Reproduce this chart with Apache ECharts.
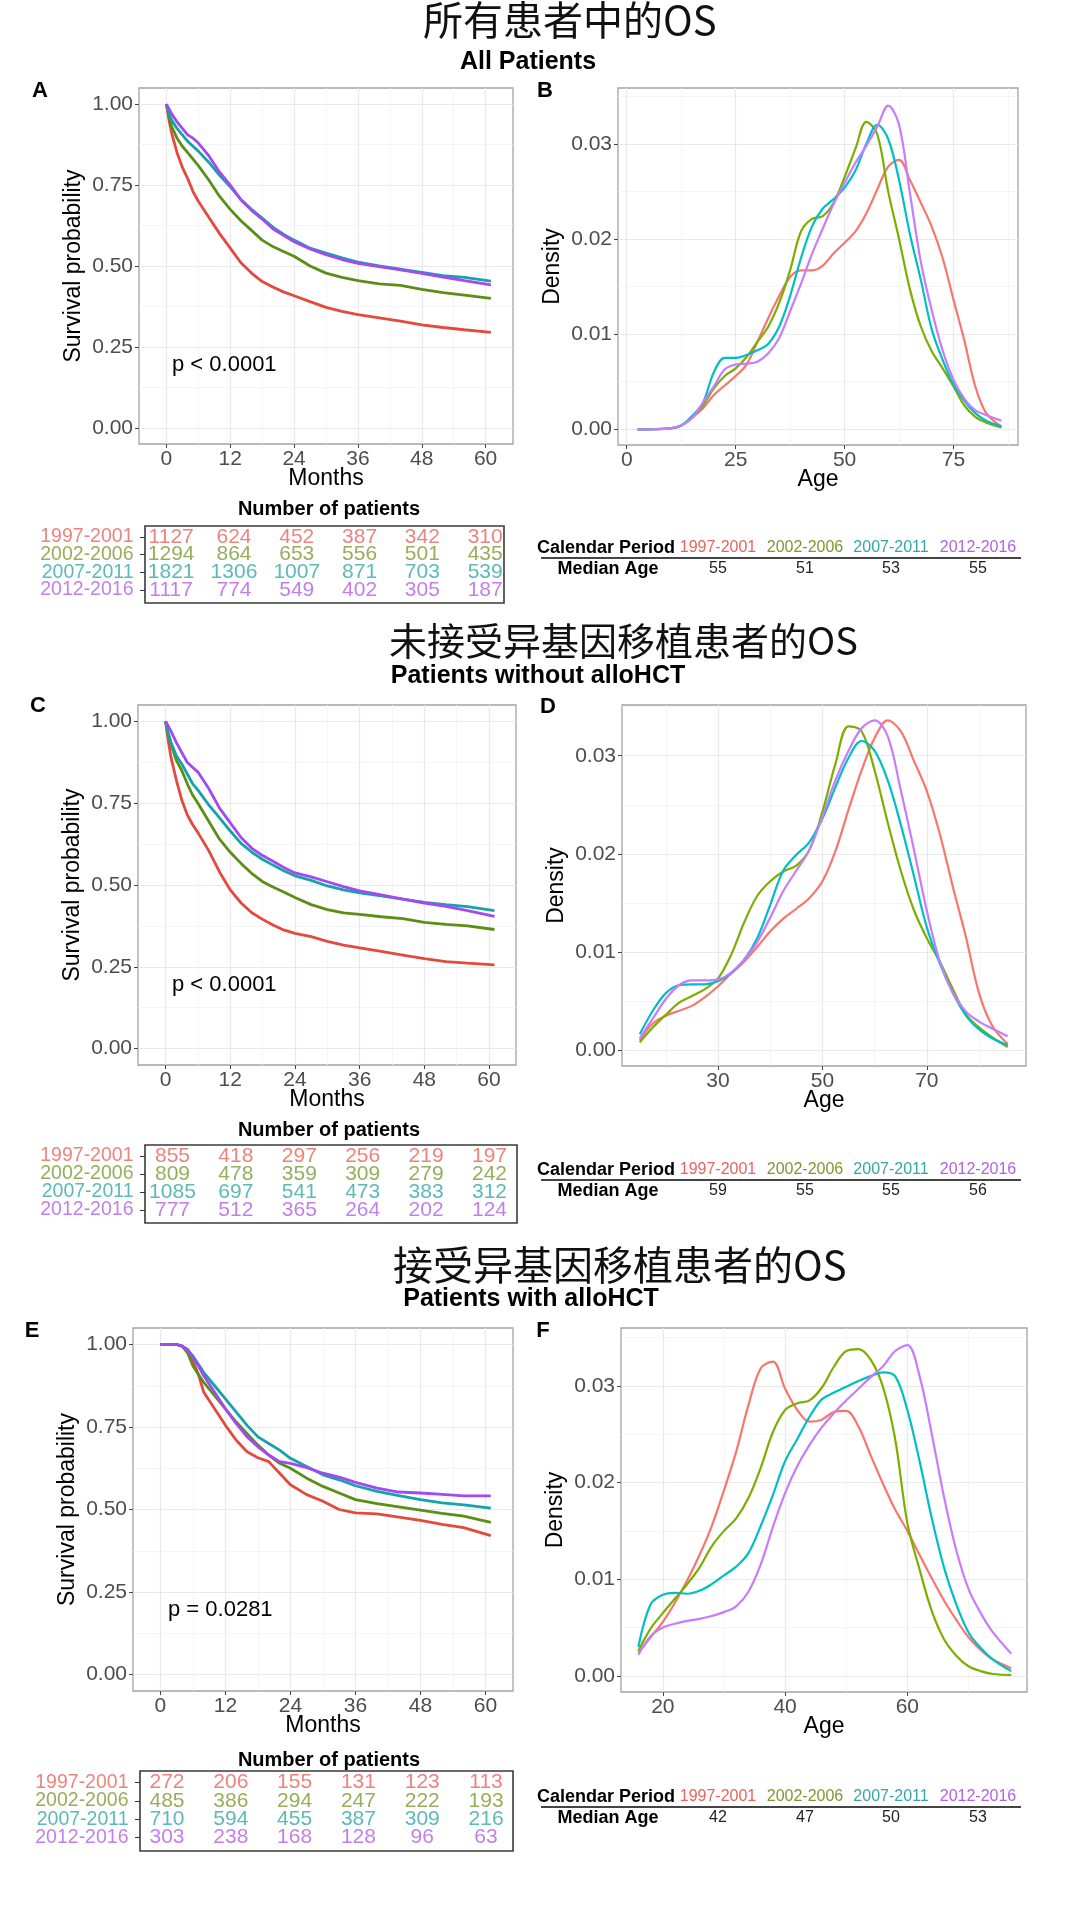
<!DOCTYPE html>
<html><head><meta charset="utf-8">
<script src="https://cdn.jsdelivr.net/npm/echarts@6/dist/echarts.min.js"></script>
<style>html,body{margin:0;padding:0;background:#fff}#c{width:1080px;height:1920px}</style>
</head><body><div id="c"></div>
<script>
// ---------------- DATA ----------------
const periods = ['1997-2001', '2002-2006', '2007-2011', '2012-2016'];

// Kaplan-Meier curves (months, survival probability)
const kmMonthsAC = [0,0.5,1,2,3,4,5,6,8,10,12,14,16,18,20,22,24,27,30,33,36,40,44,48,52,56,61];
const survA_1997 = [1,0.95,0.91,0.85,0.805,0.77,0.73,0.70,0.65,0.60,0.555,0.51,0.478,0.452,0.435,0.42,0.408,0.39,0.372,0.36,0.35,0.34,0.33,0.318,0.31,0.303,0.295];
const survA_2002 = [1,0.96,0.93,0.895,0.87,0.85,0.83,0.81,0.765,0.715,0.675,0.64,0.61,0.58,0.56,0.545,0.53,0.50,0.478,0.465,0.455,0.445,0.44,0.428,0.418,0.41,0.40];
const survA_2007 = [1,0.97,0.95,0.925,0.905,0.885,0.87,0.855,0.82,0.78,0.745,0.705,0.675,0.648,0.62,0.598,0.58,0.555,0.54,0.525,0.512,0.50,0.49,0.48,0.47,0.465,0.453];
const survA_2012 = [1,0.985,0.97,0.945,0.925,0.905,0.895,0.88,0.84,0.79,0.75,0.705,0.672,0.645,0.615,0.595,0.575,0.553,0.535,0.52,0.508,0.498,0.488,0.477,0.466,0.455,0.442];

const survC_1997 = [1,0.94,0.89,0.82,0.76,0.715,0.685,0.66,0.605,0.54,0.485,0.445,0.415,0.395,0.377,0.362,0.352,0.342,0.328,0.316,0.308,0.297,0.286,0.275,0.266,0.261,0.256];
const survC_2002 = [1,0.96,0.93,0.88,0.85,0.81,0.775,0.75,0.695,0.64,0.60,0.566,0.535,0.51,0.493,0.478,0.462,0.44,0.425,0.415,0.41,0.403,0.397,0.386,0.38,0.375,0.364];
const survC_2007 = [1,0.965,0.935,0.895,0.87,0.84,0.81,0.79,0.745,0.705,0.665,0.627,0.60,0.578,0.56,0.543,0.528,0.514,0.497,0.485,0.476,0.467,0.457,0.447,0.44,0.434,0.422];
const survC_2012 = [1,0.985,0.97,0.935,0.905,0.875,0.86,0.845,0.795,0.735,0.69,0.645,0.612,0.59,0.572,0.553,0.537,0.525,0.51,0.495,0.482,0.47,0.457,0.445,0.435,0.422,0.404];

const kmMonthsE = [0,2,3,4,5,6,7,8,10,12,14,16,18,20,22,24,27,30,33,36,40,44,48,52,56,61];
const survE_1997 = [1,1,1,0.995,0.98,0.95,0.91,0.855,0.805,0.755,0.71,0.675,0.657,0.645,0.61,0.575,0.545,0.525,0.50,0.49,0.487,0.477,0.467,0.455,0.445,0.421];
const survE_2002 = [1,1,1,0.995,0.975,0.935,0.91,0.885,0.845,0.805,0.765,0.73,0.695,0.665,0.64,0.625,0.595,0.57,0.55,0.53,0.518,0.508,0.498,0.488,0.48,0.461];
const survE_2007 = [1,1,1,0.995,0.985,0.965,0.94,0.915,0.875,0.835,0.795,0.755,0.72,0.70,0.68,0.655,0.63,0.605,0.59,0.572,0.555,0.542,0.53,0.52,0.514,0.504];
const survE_2012 = [1,1,1,0.995,0.985,0.96,0.935,0.905,0.855,0.805,0.76,0.72,0.69,0.665,0.645,0.64,0.627,0.61,0.598,0.582,0.565,0.553,0.55,0.546,0.541,0.541];

// Age density curves
const ageB = [2.5,10,12.5,15,17.5,20,22.5,25,27.5,30,32.5,35,37.5,40,42.5,45,47.5,50,52.5,55,57.5,60,62.5,65,67.5,70,72.5,75,77.5,80,82.5,86];
const densB_1997 = [0,0.0001,0.0004,0.0012,0.0022,0.0036,0.0046,0.0056,0.0068,0.0092,0.0117,0.0140,0.0160,0.0167,0.0167,0.0172,0.0185,0.0196,0.0208,0.0227,0.0252,0.0276,0.0283,0.0262,0.0238,0.0213,0.0180,0.0136,0.0093,0.0045,0.0017,0.0003];
const densB_2002 = [0,0.0001,0.0004,0.0013,0.0025,0.0043,0.0056,0.0064,0.0076,0.0092,0.0108,0.0133,0.0167,0.0208,0.0221,0.0224,0.0238,0.0265,0.0295,0.0323,0.0310,0.0250,0.0200,0.0147,0.0108,0.0082,0.0064,0.0045,0.0025,0.0013,0.0007,0.0002];
const densB_2007 = [0,0.0001,0.0004,0.0014,0.0028,0.0060,0.0075,0.0075,0.0078,0.0083,0.0090,0.0108,0.0140,0.0180,0.0213,0.0232,0.0242,0.0254,0.0272,0.0300,0.0320,0.0305,0.0262,0.0205,0.0157,0.0105,0.0073,0.0047,0.0030,0.0017,0.0009,0.0003];
const densB_2012 = [0,0.0001,0.0004,0.0012,0.0028,0.0045,0.0063,0.0068,0.0069,0.0071,0.0080,0.0096,0.0124,0.0153,0.0184,0.0211,0.0237,0.0259,0.0280,0.0298,0.0318,0.0340,0.0320,0.0248,0.0176,0.0125,0.0083,0.0052,0.0032,0.0020,0.0015,0.0009];

const ageD = [15,17.5,20,22.5,25,27.5,30,32.5,35,37.5,40,42.5,45,47.5,50,52.5,55,57.5,60,62.5,65,67.5,70,72.5,75,77.5,80,82.5,85.5];
const densD_1997 = [0.0010,0.0027,0.0035,0.0040,0.0045,0.0054,0.0065,0.0078,0.0090,0.0105,0.0121,0.0134,0.0144,0.0155,0.0172,0.0203,0.0245,0.0285,0.0318,0.0336,0.0325,0.0295,0.0264,0.0220,0.0166,0.0115,0.0058,0.0025,0.0006];
const densD_2002 = [0.0008,0.0023,0.0036,0.0048,0.0055,0.0062,0.0073,0.0097,0.0130,0.0157,0.0172,0.0182,0.0188,0.0204,0.0243,0.0292,0.0330,0.0325,0.0285,0.0232,0.0183,0.0143,0.0114,0.0090,0.0062,0.0036,0.0023,0.0013,0.0003];
const densD_2007 = [0.0016,0.0040,0.0058,0.0066,0.0067,0.0067,0.0070,0.0078,0.0092,0.0114,0.0148,0.0183,0.0199,0.0212,0.0236,0.0268,0.0298,0.0315,0.0305,0.0275,0.0230,0.0178,0.0125,0.0088,0.0058,0.0035,0.0021,0.0012,0.0005];
const densD_2012 = [0.0012,0.0032,0.0052,0.0066,0.0071,0.0071,0.0072,0.0079,0.0092,0.0110,0.0135,0.0162,0.0183,0.0204,0.0238,0.0275,0.0305,0.0328,0.0336,0.0320,0.0265,0.0205,0.0142,0.0090,0.0058,0.0039,0.0029,0.0022,0.0014];

const ageF = [16,18,20,22,24,26,28,30,32,34,36,38,40,42,44,46,48,50,52,54,56,58,60,62,64,66,68,70,72,74,77];
const densF_1997 = [0.0024,0.0040,0.0056,0.0076,0.0099,0.0125,0.0155,0.0192,0.0232,0.0280,0.0318,0.0325,0.0297,0.0275,0.0263,0.0265,0.0273,0.0274,0.0258,0.0228,0.0199,0.0172,0.0150,0.0125,0.0101,0.0078,0.0058,0.0040,0.0027,0.0017,0.0008];
const densF_2002 = [0.0026,0.0049,0.0065,0.0080,0.0095,0.0112,0.0134,0.0150,0.0163,0.0184,0.0215,0.0252,0.0275,0.0282,0.0285,0.0298,0.0320,0.0336,0.0338,0.0327,0.0299,0.0245,0.0158,0.0110,0.0067,0.0038,0.0021,0.0010,0.0005,0.0002,0.0001];
const densF_2007 = [0.0030,0.0074,0.0084,0.0086,0.0085,0.0088,0.0095,0.0104,0.0113,0.0127,0.0155,0.0187,0.0222,0.0245,0.0268,0.0286,0.0293,0.0299,0.0305,0.0310,0.0314,0.0310,0.0275,0.0222,0.0163,0.0112,0.0074,0.0045,0.0029,0.0017,0.0005];
const densF_2012 = [0.0022,0.0041,0.0050,0.0054,0.0057,0.0059,0.0062,0.0066,0.0072,0.0087,0.0115,0.0154,0.0189,0.0217,0.0239,0.0257,0.0272,0.0285,0.0297,0.0309,0.0320,0.0336,0.0342,0.0310,0.0250,0.0185,0.0130,0.0090,0.0065,0.0045,0.0023];

// Number at risk tables
const riskTimes = [0, 12, 24, 36, 48, 60];
const riskA_1997 = [1127, 624, 452, 387, 342, 310];
const riskA_2002 = [1294, 864, 653, 556, 501, 435];
const riskA_2007 = [1821, 1306, 1007, 871, 703, 539];
const riskA_2012 = [1117, 774, 549, 402, 305, 187];
const riskC_1997 = [855, 418, 297, 256, 219, 197];
const riskC_2002 = [809, 478, 359, 309, 279, 242];
const riskC_2007 = [1085, 697, 541, 473, 383, 312];
const riskC_2012 = [777, 512, 365, 264, 202, 124];
const riskE_1997 = [272, 206, 155, 131, 123, 113];
const riskE_2002 = [485, 386, 294, 247, 222, 193];
const riskE_2007 = [710, 594, 455, 387, 309, 216];
const riskE_2012 = [303, 238, 168, 128, 96, 63];

// Median ages
const medianB = [55, 51, 53, 55];
const medianD = [59, 55, 55, 56];
const medianF = [42, 47, 50, 53];

// Tick labels
const monthTicks = [0, 12, 24, 36, 48, 60];
const survTicks = [0, 0.25, 0.5, 0.75, 1];
const densTicks = [0, 0.01, 0.02, 0.03];
const ageTicksB = [0, 25, 50, 75];
const ageTicksD = [30, 50, 70];
const ageTicksF = [20, 40, 60];

// Text
const titlesCN = ['所有患者中的OS', '未接受异基因移植患者的OS', '接受异基因移植患者的OS'];
const titlesEN = ['All Patients', 'Patients without alloHCT', 'Patients with alloHCT'];
const pValues = ['p < 0.0001', 'p < 0.0001', 'p = 0.0281'];

// ---------------- STYLE ----------------
const FONT = '"Liberation Sans", Arial, sans-serif';
const CJK = '"Noto Sans CJK SC", sans-serif';
const KM_COLORS = ['#E4493D', '#5B8E16', '#16A2AA', '#A24AF2'];
const DENS_COLORS = ['#F8766D', '#7CAE00', '#00BFC4', '#C77CFF'];
const TAB_COLORS = ['#E8645C', '#7A9A30', '#33A7A8', '#B35FE6'];

function minorOf(maj, lo, hi) {
  const step = maj[1] - maj[0];
  const out = [];
  for (let v = maj[0] - step / 2; v <= hi + 1e-9; v += step) if (v >= lo - 1e-9) out.push(+v.toFixed(6));
  return out;
}

const panels = [
  { grid: {left: 139, top: 88, width: 374, height: 356}, x: [-5.15, 65.15], y: [-0.05, 1.05], xt: monthTicks, yt: survTicks },
  { grid: {left: 618, top: 88, width: 400, height: 357}, x: [-2.0, 89.8], y: [-0.00165, 0.03586], xt: ageTicksB, yt: densTicks },
  { grid: {left: 138, top: 705, width: 378, height: 360}, x: [-5.12, 65.0], y: [-0.05, 1.05], xt: monthTicks, yt: survTicks },
  { grid: {left: 622, top: 705, width: 404, height: 361}, x: [11.6, 89.0], y: [-0.00163, 0.03517], xt: ageTicksD, yt: densTicks },
  { grid: {left: 133, top: 1328, width: 380, height: 363}, x: [-5.07, 65.1], y: [-0.05, 1.05], xt: monthTicks, yt: survTicks },
  { grid: {left: 621, top: 1328, width: 406, height: 364}, x: [13.16, 79.57], y: [-0.00166, 0.03598], xt: ageTicksF, yt: densTicks }
];

const tables = [
  { grid: {left: 145, top: 526, width: 359, height: 77}, x: [-5.0, 63.6], rows: [riskA_1997, riskA_2002, riskA_2007, riskA_2012] },
  { grid: {left: 145, top: 1145, width: 372, height: 78}, x: [-5.2, 65.2], rows: [riskC_1997, riskC_2002, riskC_2007, riskC_2012] },
  { grid: {left: 140, top: 1771, width: 373, height: 80}, x: [-5.08, 65.07], rows: [riskE_1997, riskE_2002, riskE_2007, riskE_2012] }
];

const grids = [], xAxes = [], yAxes = [], series = [];

panels.forEach((p, k) => {
  grids.push(Object.assign({show: true, borderColor: '#a3a3a3', borderWidth: 1.3, backgroundColor: '#fff'}, p.grid));
  const xMinor = minorOf(p.xt, p.x[0], p.x[1]);
  const yMinor = minorOf(p.yt, p.y[0], p.y[1]);
  xAxes.push({
    type: 'value', gridIndex: k, min: p.x[0], max: p.x[1], position: 'bottom',
    axisLine: {show: false, onZero: false},
    axisTick: {show: true, customValues: p.xt, length: 4, lineStyle: {color: '#444', width: 1}},
    axisLabel: {customValues: p.xt, color: '#4d4d4d', fontSize: 21, margin: 5, fontFamily: FONT, showMinLabel: true, showMaxLabel: true},
    splitLine: {show: true, lineStyle: {color: '#e9e9e9', width: 1.2}}
  });
  xAxes.push({
    type: 'value', gridIndex: k, min: p.x[0], max: p.x[1], position: 'top',
    axisLine: {show: false, onZero: false}, axisTick: {show: false, customValues: xMinor},
    axisLabel: {show: false, customValues: xMinor},
    splitLine: {show: true, lineStyle: {color: '#f3f3f3', width: 0.8}}
  });
  yAxes.push({
    type: 'value', gridIndex: k, min: p.y[0], max: p.y[1], position: 'left',
    axisLine: {show: false, onZero: false},
    axisTick: {show: true, customValues: p.yt, length: 4, lineStyle: {color: '#444', width: 1}},
    axisLabel: {customValues: p.yt, color: '#4d4d4d', fontSize: 21, margin: 6, fontFamily: FONT, showMinLabel: true, showMaxLabel: true,
      formatter: v => (+v).toFixed(2)},
    splitLine: {show: true, lineStyle: {color: '#e9e9e9', width: 1.2}}
  });
  yAxes.push({
    type: 'value', gridIndex: k, min: p.y[0], max: p.y[1], position: 'right',
    axisLine: {show: false, onZero: false}, axisTick: {show: false, customValues: yMinor},
    axisLabel: {show: false, customValues: yMinor},
    splitLine: {show: true, lineStyle: {color: '#f3f3f3', width: 0.8}}
  });
});

function addLines(k, xs, arrs, colors, width, smooth) {
  arrs.forEach((a, i) => {
    series.push({
      type: 'line', xAxisIndex: 2 * k, yAxisIndex: 2 * k,
      data: xs.map((x, j) => [x, a[j]]),
      showSymbol: false, symbol: 'none', smooth: smooth, silent: true, animation: false,
      lineStyle: {width: width, color: colors[i]}, itemStyle: {color: colors[i]}, z: 3 + i
    });
  });
}
addLines(0, kmMonthsAC, [survA_1997, survA_2002, survA_2007, survA_2012], KM_COLORS, 2.8, false);
addLines(1, ageB, [densB_1997, densB_2002, densB_2007, densB_2012], DENS_COLORS, 2.2, 0.35);
addLines(2, kmMonthsAC, [survC_1997, survC_2002, survC_2007, survC_2012], KM_COLORS, 2.8, false);
addLines(3, ageD, [densD_1997, densD_2002, densD_2007, densD_2012], DENS_COLORS, 2.2, 0.35);
addLines(4, kmMonthsE, [survE_1997, survE_2002, survE_2007, survE_2012], KM_COLORS, 2.8, false);
addLines(5, ageF, [densF_1997, densF_2002, densF_2007, densF_2012], DENS_COLORS, 2.2, 0.35);

// Risk tables
tables.forEach((t, n) => {
  const gi = panels.length + n;          // grid index
  const ai = 2 * panels.length + n;      // axis index
  grids.push(Object.assign({show: true, borderColor: '#3a3a3a', borderWidth: 1.6, backgroundColor: 'transparent'}, t.grid));
  xAxes.push({type: 'value', gridIndex: gi, min: t.x[0], max: t.x[1], show: false, axisLine: {onZero: false}});
  yAxes.push({
    type: 'value', gridIndex: gi, min: -0.62, max: 3.73, inverse: true,
    axisLine: {show: false, onZero: false}, splitLine: {show: false},
    axisTick: {show: true, customValues: [0, 1, 2, 3], length: 5, lineStyle: {color: '#333'}},
    axisLabel: {show: false, customValues: [0, 1, 2, 3]}
  });
  // row labels (period names) placed at the table's left edge
  series.push({
    type: 'scatter', xAxisIndex: ai, yAxisIndex: ai, clip: false,
    data: periods.map((pr, i) => ({value: [t.x[0], i], label: {color: TAB_COLORS[i]}})),
    symbolSize: 1, itemStyle: {color: 'rgba(0,0,0,0)'}, silent: true, animation: false,
    label: {show: true, position: 'left', distance: 11, formatter: pr => periods[pr.dataIndex], fontSize: 19.5, fontFamily: FONT},
    labelLayout: {hideOverlap: false}
  });
  t.rows.forEach((row, i) => {
    series.push({
      type: 'scatter', xAxisIndex: ai, yAxisIndex: ai,
      data: riskTimes.map((tm, j) => [tm, i, row[j]]),
      symbolSize: 1, itemStyle: {color: 'rgba(0,0,0,0)'}, silent: true, animation: false,
      label: {show: true, position: 'inside', formatter: pr => String(pr.value[2]), color: TAB_COLORS[i], fontSize: 21, fontFamily: FONT},
      labelLayout: {hideOverlap: false}
    });
  });
});

// Graphic text
const graphic = [];
function txt(text, x, y, o) {
  o = o || {};
  const el = {type: 'text', x: x, y: y, silent: true, z: 100,
    style: {text: text, fill: o.fill || '#000', font: o.font || ('21px ' + FONT),
      align: o.align || 'center', textAlign: o.align || 'center', verticalAlign: 'middle', textVerticalAlign: 'middle'}};
  if (o.rotation) el.rotation = o.rotation;
  graphic.push(el);
}
const rowTitle = [
  {cx: 423, cy: 20, fs: 40, sx: 528, sy: 62},
  {cx: 389, cy: 641, fs: 38, sx: 538, sy: 676},
  {cx: 393, cy: 1265, fs: 40, sx: 531, sy: 1299}
];
rowTitle.forEach((r, i) => {
  txt(titlesCN[i], r.cx, r.cy, {font: '400 ' + r.fs + 'px ' + CJK, align: 'left', fill: '#111'});
  txt(titlesEN[i], r.sx, r.sy, {font: 'bold 25px ' + FONT});
});
const letters = [['A', 40, 91], ['B', 545, 91], ['C', 38, 706], ['D', 548, 707], ['E', 32, 1331], ['F', 543, 1331]];
letters.forEach(l => txt(l[0], l[1], l[2], {font: 'bold 22px ' + FONT}));

panels.forEach((p, k) => {
  const g = p.grid;
  const cx = g.left + g.width / 2, cy = g.top + g.height / 2;
  const isKM = k % 2 === 0;
  txt(isKM ? 'Months' : 'Age', cx, g.top + g.height + 35, {font: '23px ' + FONT});
  txt(isKM ? 'Survival probability' : 'Density', g.left - 65, cy, {font: '23px ' + FONT, rotation: Math.PI / 2});
});
[[172, 365], [172, 985], [168, 1610]].forEach((pp, i) => txt(pValues[i], pp[0], pp[1], {font: '22px ' + FONT, align: 'left'}));
[509, 1130, 1760].forEach(y => txt('Number of patients', 329, y, {font: 'bold 20px ' + FONT}));

// Median age tables
const medians = [medianB, medianD, medianF];
const medX = [718, 805, 891, 978];
[548, 1170, 1797].forEach((hy, n) => {
  txt('Calendar Period', 606, hy, {font: 'bold 18px ' + FONT});
  periods.forEach((pr, i) => txt(pr, medX[i], hy, {font: '16px ' + FONT, fill: TAB_COLORS[i]}));
  graphic.push({type: 'line', silent: true, z: 100, shape: {x1: 541, y1: hy + 10, x2: 1021, y2: hy + 10}, style: {stroke: '#444', lineWidth: 2}});
  txt('Median Age', 608, hy + 21, {font: 'bold 18px ' + FONT});
  medians[n].forEach((m, i) => txt(String(m), medX[i], hy + 21, {font: '16px ' + FONT, fill: '#222'}));
});

const chart = echarts.init(document.getElementById('c'), null, {renderer: 'canvas', width: 1080, height: 1920});
chart.setOption({
  animation: false,
  backgroundColor: '#fff',
  textStyle: {fontFamily: FONT},
  grid: grids, xAxis: xAxes, yAxis: yAxes, series: series, graphic: graphic
});
</script></body></html>
